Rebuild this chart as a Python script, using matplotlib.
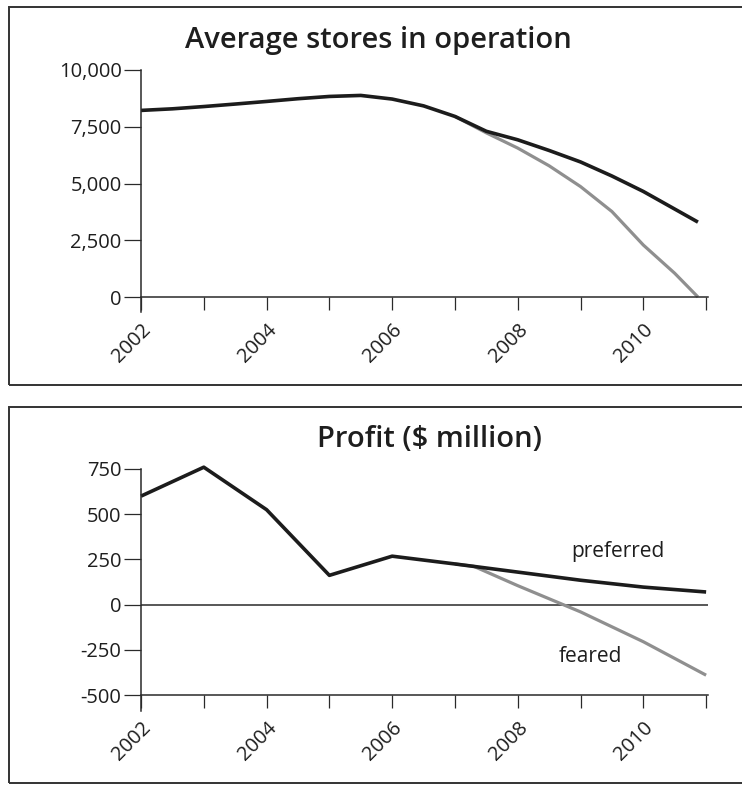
import matplotlib
matplotlib.use("Agg")
import matplotlib.pyplot as plt
from matplotlib.patches import Rectangle
from matplotlib.ticker import FuncFormatter, FixedLocator

plt.rcParams['font.family'] = ['Open Sans', 'DejaVu Sans']

# ---- data: average stores in operation ----
stores_years_pref = [2002.0, 2002.5, 2003.0, 2003.5, 2004.0, 2004.5, 2005.0, 2005.5,
                     2006.0, 2006.5, 2007.0, 2007.5, 2008.0, 2008.5, 2009.0, 2009.5,
                     2010.0, 2010.87]
stores_pref = [8220, 8290, 8390, 8500, 8615, 8735, 8835, 8880,
               8720, 8420, 7955, 7300, 6925, 6455, 5950, 5330,
               4650, 3300]
stores_years_fear = [2007.0, 2007.5, 2008.0, 2008.5, 2009.0, 2009.5, 2010.0, 2010.5, 2010.87]
stores_fear = [7955, 7230, 6560, 5780, 4865, 3765, 2290, 1045, 0]

# ---- data: profit ($ million) ----
profit_years_pref = [2002, 2003, 2004, 2005, 2006, 2007, 2008, 2009, 2010, 2011]
profit_pref = [600, 760, 525, 162, 268, 225, 180, 135, 97, 70]
profit_years_fear = [2007, 2007.3, 2008, 2009, 2010, 2011]
profit_fear = [225, 212, 105, -40, -205, -390]

stores_ticks = [0, 2500, 5000, 7500, 10000]
profit_ticks = [-500, -250, 0, 250, 500, 750]
year_ticks = list(range(2002, 2012))
year_labels = [2002, 2004, 2006, 2008, 2010]

W, H = 742, 785
fig = plt.figure(figsize=(W / 100, H / 100), dpi=100)

def fx(px):
    return px / W

def fy(py):
    return 1 - py / H

# frames
for (top, bot) in [(7, 385), (407, 783)]:
    fig.patches.append(Rectangle((fx(9), fy(bot)), fx(745) - fx(9), fy(top) - fy(bot),
                                 transform=fig.transFigure, fill=False,
                                 edgecolor='#333333', linewidth=1.4))

BLACK = '#1c1c1c'
GRAY = '#8f8f8f'
SPINE = '#2a2a2a'
TXT = '#1e1e1e'

def style_axes(ax, xaxis_at):
    for s in ['top', 'right']:
        ax.spines[s].set_visible(False)
    ax.spines['bottom'].set_position(('data', xaxis_at))
    ax.spines['bottom'].set_color(SPINE)
    ax.spines['left'].set_color(SPINE)
    ax.spines['bottom'].set_linewidth(1.1)
    ax.spines['left'].set_linewidth(1.1)
    ax.set_xlim(2002, 2011.03)
    ax.xaxis.set_major_locator(FixedLocator(year_ticks))
    ax.set_xticklabels([str(y) if y in year_labels else '' for y in year_ticks],
                       rotation=45, ha='right', va='top', rotation_mode='anchor',
                       fontsize=14.5, color=TXT)
    ax.tick_params(axis='x', direction='out', length=9.5, width=0.9, color=SPINE, pad=7)
    ax.tick_params(axis='y', direction='out', length=12, width=0.9, color=SPINE, pad=2,
                   labelsize=14.5, labelcolor=TXT)

# ---- top axes ----
ax1 = fig.add_axes([fx(141), fy(312), fx(708) - fx(141), fy(70) - fy(312)])
ax1.plot(stores_years_fear, stores_fear, color=GRAY, lw=2.3, solid_capstyle='butt')
ax1.plot(stores_years_pref, stores_pref, color=BLACK, lw=2.6, solid_capstyle='butt')
ax1.set_ylim(-660, 10000)
ax1.set_yticks(stores_ticks)
ax1.yaxis.set_major_formatter(FuncFormatter(lambda v, p: f"{int(v):,}"))
style_axes(ax1, 0)
ax1.set_title('Average stores in operation', fontsize=21, fontweight='semibold',
              color=TXT, x=(378 - 141) / (708 - 141), y=1.0, pad=16)

# ---- bottom axes ----
ax2 = fig.add_axes([fx(141), fy(711), fx(708) - fx(141), fy(469) - fy(711)])
ax2.axhline(0, color=SPINE, lw=1.1, xmin=0, xmax=1)
ax2.plot(profit_years_fear, profit_fear, color=GRAY, lw=2.3, solid_capstyle='butt')
ax2.plot(profit_years_pref, profit_pref, color=BLACK, lw=2.6, solid_capstyle='butt',
         clip_on=False)
ax2.set_ylim(-588, 750)
ax2.set_yticks(profit_ticks)
ax2.yaxis.set_major_formatter(FuncFormatter(lambda v, p: f"{int(v)}"))
style_axes(ax2, -500)
ax2.set_title('Profit ($ million)', fontsize=21, fontweight='semibold',
              color=TXT, x=(429 - 141) / (708 - 141), y=1.0, pad=16)
ax2.text(2009.6, 295, 'preferred', fontsize=15, color=TXT, ha='center', va='center')
ax2.text(2009.15, -286, 'feared', fontsize=15, color=TXT, ha='center', va='center')

fig.savefig('out.png', dpi=100)
